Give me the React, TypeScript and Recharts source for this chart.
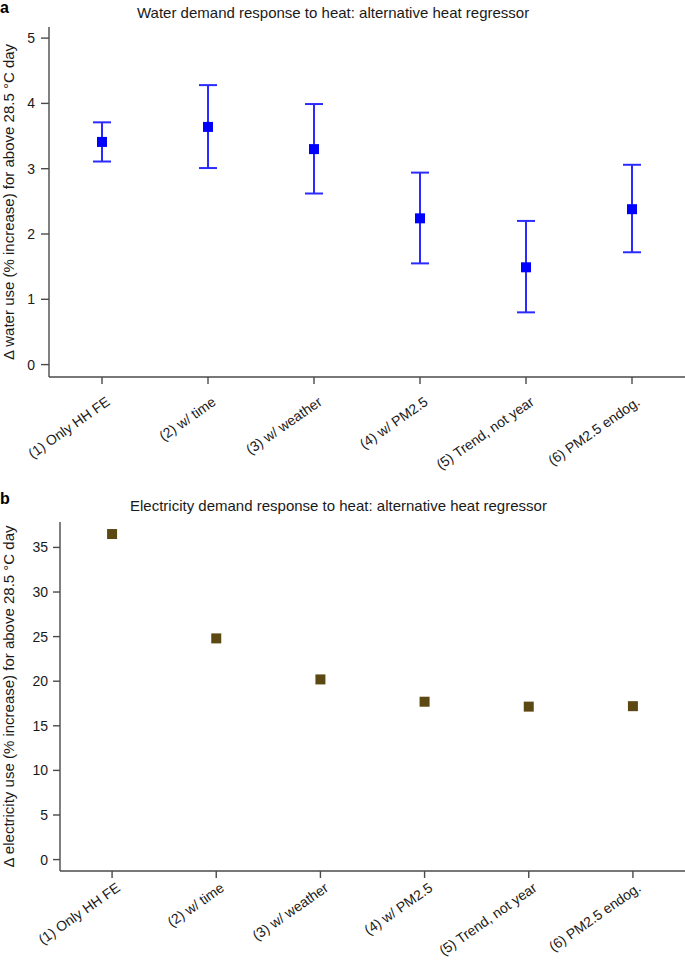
import React from 'react';
import { ComposedChart, Scatter, XAxis, YAxis, ErrorBar } from 'recharts';

const categories = [
  '(1) Only HH FE',
  '(2) w/ time',
  '(3) w/ weather',
  '(4) w/ PM2.5',
  '(5) Trend, not year',
  '(6) PM2.5 endog.',
];
const catPos = [1, 2, 3, 4, 5, 6];

// panel a: water, point estimate + 95% CI
const waterEst = [3.41, 3.64, 3.3, 2.24, 1.49, 2.38];
const waterLow = [3.11, 3.01, 2.62, 1.55, 0.8, 1.72];
const waterHigh = [3.71, 4.28, 3.99, 2.94, 2.2, 3.06];
const waterTicks = [0, 1, 2, 3, 4, 5];

// panel b: electricity, point estimate only
const elecEst = [36.5, 24.8, 20.2, 17.7, 17.15, 17.2];
const elecTicks = [0, 5, 10, 15, 20, 25, 30, 35];

const FONT = '"Liberation Sans", Arial, Helvetica, sans-serif';
const AXIS = '#4a4a4a';
const TEXT = '#1a1a1a';

const waterData = categories.map((name, i) => ({
  name,
  pos: catPos[i],
  value: waterEst[i],
  ci: [waterEst[i] - waterLow[i], waterHigh[i] - waterEst[i]],
}));

const elecData = categories.map((name, i) => ({ name, pos: catPos[i], value: elecEst[i] }));

function square(color: string) {
  return (props: any) => (
    <rect x={props.cx - 5} y={props.cy - 5} width={10} height={10} fill={color} />
  );
}

function makeTick(dx: number, dy: number) {
  return (props: any) => {
    const { x, y, payload } = props;
    const label = categories[payload.value - 1];
    return (
      <g transform={`translate(${x + dx},${y + dy})`}>
        <text
          x={0}
          y={0}
          textAnchor="end"
          transform="rotate(-35)"
          fontSize={14}
          fontFamily={FONT}
          fill={TEXT}
        >
          {label}
        </text>
      </g>
    );
  };
}

function YLabel(props: any) {
  const vb = props.viewBox || {};
  const cy = vb.y + vb.height / 2;
  return (
    <text
      x={14}
      y={cy}
      transform={`rotate(-90, 14, ${cy})`}
      textAnchor="middle"
      fontSize={15}
      fontFamily={FONT}
      fill={TEXT}
    >
      {props.text}
    </text>
  );
}

const titleStyle: React.CSSProperties = {
  position: 'absolute',
  fontFamily: FONT,
  fontSize: 15,
  color: TEXT,
  whiteSpace: 'nowrap',
  lineHeight: '15px',
};

const panelStyle: React.CSSProperties = {
  position: 'absolute',
  left: 0,
  fontFamily: FONT,
  fontSize: 16,
  fontWeight: 'bold',
  color: '#000',
  lineHeight: '16px',
};

export default function App() {
  return (
    <div style={{ position: 'relative', width: 685, height: 962, background: '#fff' }}>
      <style>{'body{margin:0}'}</style>

      <div style={{ ...panelStyle, top: 0 }}>a</div>
      <div style={{ ...titleStyle, left: 137, top: 5 }}>
        Water demand response to heat: alternative heat regressor
      </div>
      <div style={{ position: 'absolute', left: 0, top: 0 }}>
        <ComposedChart width={685} height={480} data={waterData} margin={{ top: 27, right: 0, left: 0, bottom: 0 }}>
          <XAxis
            dataKey="pos"
            type="number"
            domain={[0.5, 6.5]}
            ticks={catPos}
            height={103}
            interval={0}
            tickSize={7}
            tickMargin={0}
            stroke={AXIS}
            strokeWidth={1.4}
            tick={makeTick(9, 20)}
          />
          <YAxis
            type="number"
            width={49}
            domain={[-0.19, 5.17]}
            ticks={waterTicks}
            allowDataOverflow
            tickSize={8}
            tickMargin={6}
            stroke={AXIS}
            strokeWidth={1.4}
            tick={{ fontSize: 14, fontFamily: FONT, fill: TEXT }}
            label={<YLabel text="Δ water use (% increase) for above 28.5 °C day" />}
          />
          <Scatter dataKey="value" shape={square('#0000ff')} isAnimationActive={false}>
            <ErrorBar dataKey="ci" direction="y" width={9} strokeWidth={2} stroke="#2b2bff" isAnimationActive={false} />
          </Scatter>
        </ComposedChart>
      </div>

      <div style={{ ...panelStyle, top: 491 }}>b</div>
      <div style={{ ...titleStyle, left: 130, top: 498 }}>
        Electricity demand response to heat: alternative heat regressor
      </div>
      <div style={{ position: 'absolute', left: 0, top: 480 }}>
        <ComposedChart width={685} height={482} data={elecData} margin={{ top: 42, right: 0, left: 0, bottom: 0 }}>
          <XAxis
            dataKey="pos"
            type="number"
            domain={[0.5, 6.5]}
            ticks={catPos}
            height={91}
            interval={0}
            tickSize={7}
            tickMargin={0}
            stroke={AXIS}
            strokeWidth={1.4}
            tick={makeTick(9, 12)}
          />
          <YAxis
            type="number"
            width={60}
            domain={[-1.28, 37.85]}
            ticks={elecTicks}
            allowDataOverflow
            tickSize={7}
            tickMargin={5}
            stroke={AXIS}
            strokeWidth={1.4}
            tick={{ fontSize: 14, fontFamily: FONT, fill: TEXT }}
            label={<YLabel text="Δ electricity use (% increase) for above 28.5 °C day" />}
          />
          <Scatter dataKey="value" shape={square('#5c4813')} isAnimationActive={false} />
        </ComposedChart>
      </div>
    </div>
  );
}
